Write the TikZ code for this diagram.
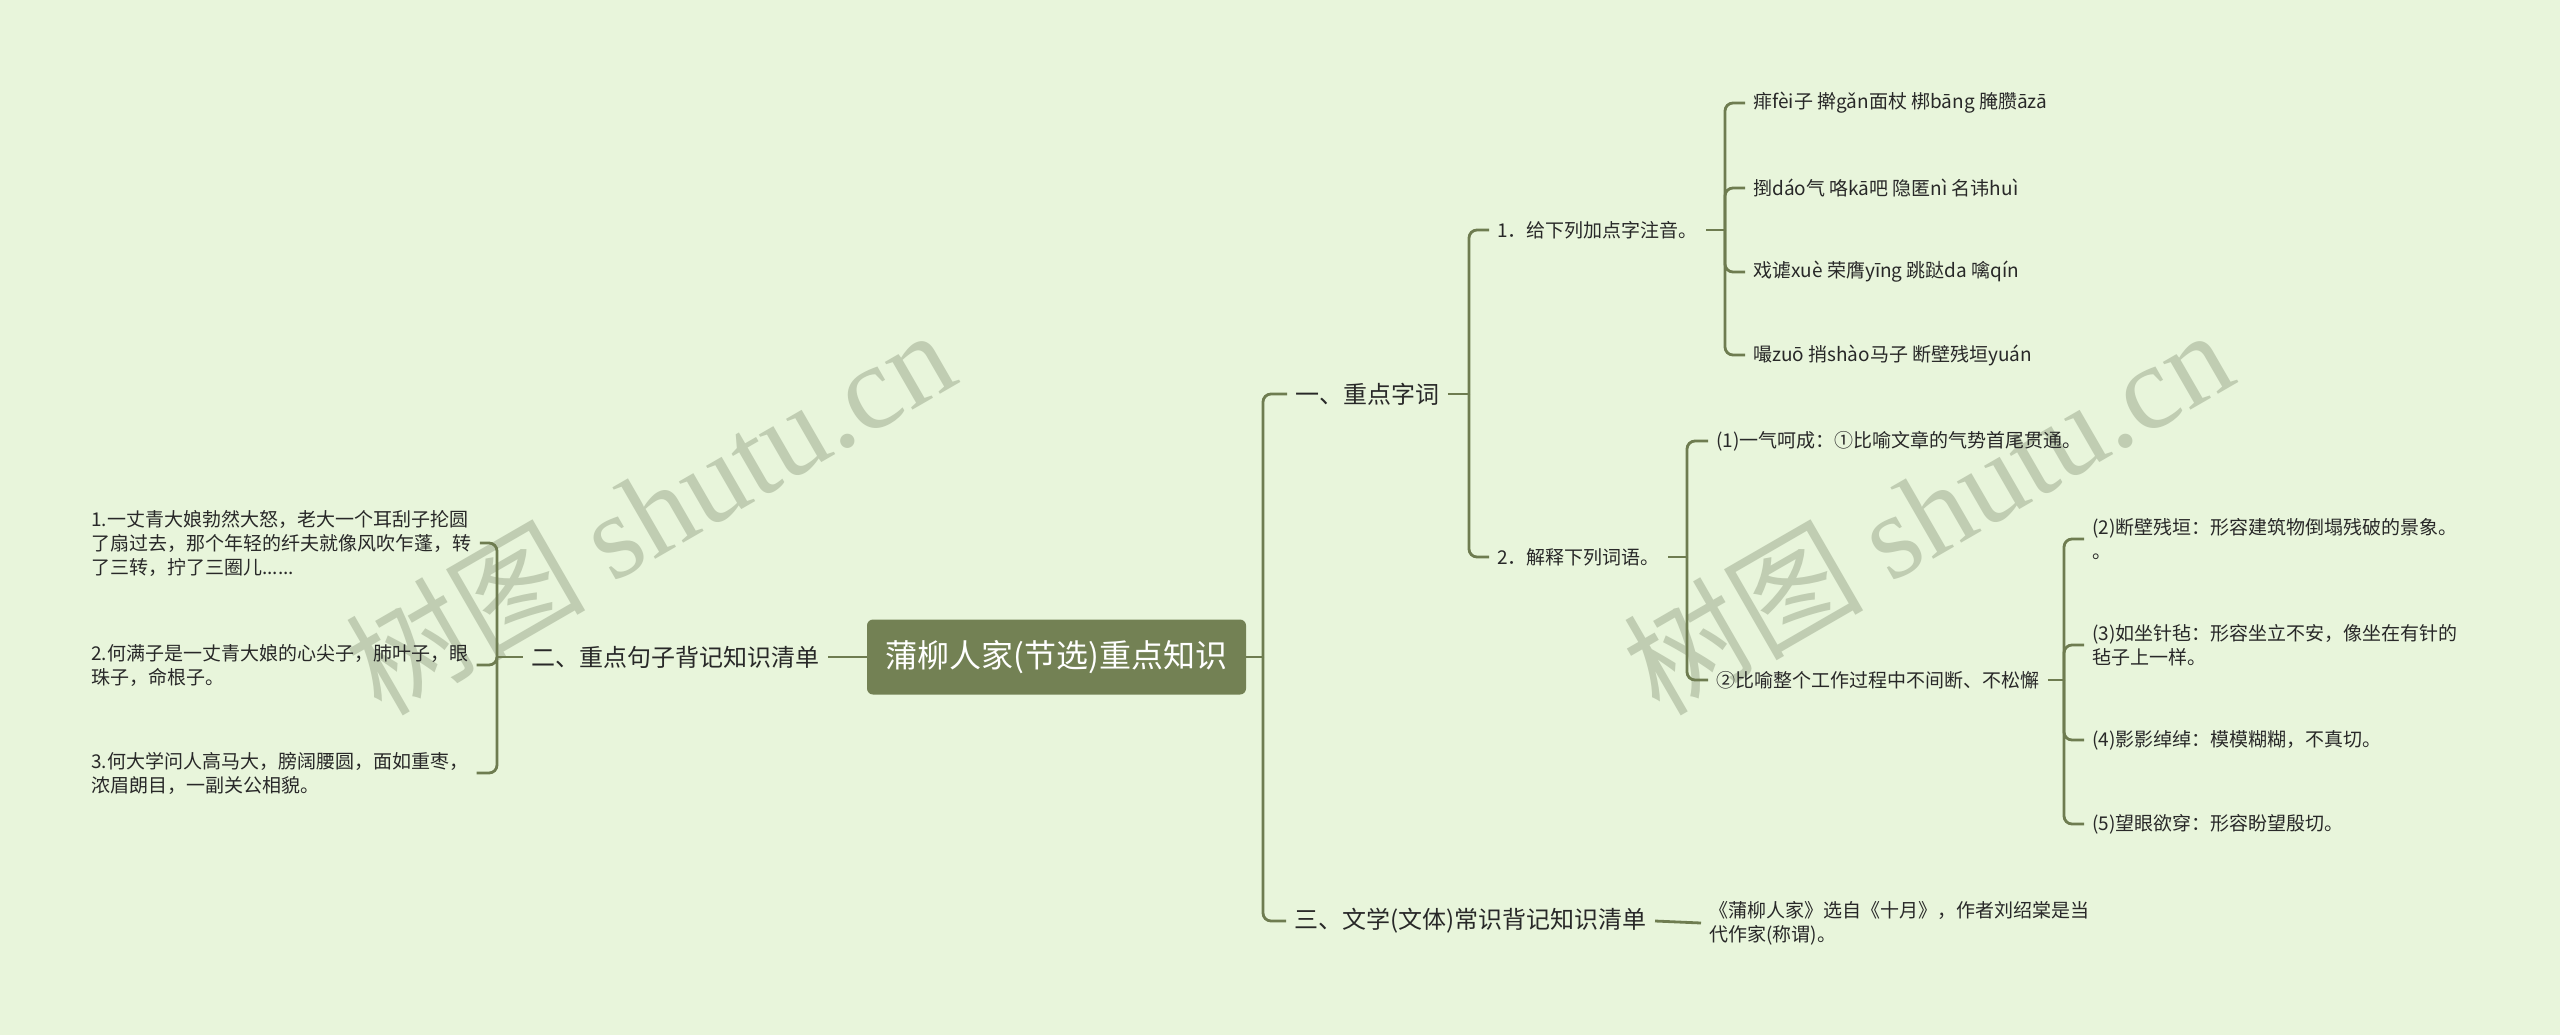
\documentclass[tikz,border=0pt]{standalone}
\usepackage{fontspec}
\setmainfont{Noto Sans CJK SC}
\newfontfamily\wmserif{Liberation Serif}
\usepackage{tikz}
\usetikzlibrary{positioning}
\definecolor{bgcol}{RGB}{232,245,219}
\definecolor{linecol}{RGB}{110,124,80}
\definecolor{rootcol}{RGB}{115,129,84}
\definecolor{txtcol}{RGB}{40,40,40}
\definecolor{wmcol}{RGB}{192,205,178}

\begin{document}
\begin{tikzpicture}[
    x=0.5pt, y=-0.5pt,
    rootbox/.style={fill=rootcol, rounded corners=3pt, text=white, font=\fontsize{16}{19}\selectfont, minimum width=189.5pt, minimum height=37.5pt},
    lvone/.style={text=txtcol, font=\fontsize{12}{14}\selectfont, inner xsep=4pt, inner ysep=2pt},
    leafnode/.style={text=txtcol, font=\fontsize{9.5}{12}\selectfont, align=left, inner xsep=4pt, inner ysep=2pt, anchor=west},
    link/.style={draw=linecol, line width=1.4pt, rounded corners=4pt},
    wmark/.style={text=wmcol, rotate=30, font=\fontsize{60}{60}\selectfont}
]
% Background
\fill[bgcol] (0,0) rectangle (2560,1035);
\useasboundingbox (0,0) rectangle (2560,1035);

% Watermarks
\node[wmark] (wmleft) at (649,510) {树图 {\wmserif shutu.cn}};
\node[wmark] (wmright) at (1927,510) {树图 {\wmserif shutu.cn}};

% Center
\node[rootbox] (rootn) at (1056.5,657) {蒲柳人家(节选)重点知识};

% Level one
\node[lvone, anchor=west] (one) at (1287,394) {一、重点字词};
\node[lvone, left=19.5pt of rootn] (two) {二、重点句子背记知识清单};
\node[lvone, anchor=west] (three) at (1286,921) {三、文学(文体)常识背记知识清单};

% Branch one
\node[leafnode] (zhuyin) at (1489,230) {1．给下列加点字注音。};
\node[leafnode] (jieshi) at (1489,557) {2．解释下列词语。};
\node[leafnode] (py1) at (1745,103) {痱fèi子 擀gǎn面杖 梆bāng 腌臜āzā};
\node[leafnode] (py2) at (1745,188) {捯dáo气 咯kā吧 隐匿nì 名讳huì};
\node[leafnode] (py3) at (1745,272) {戏谑xuè 荣膺yīng 跳跶da 噙qín};
\node[leafnode] (py4) at (1745,355) {嘬zuō 捎shào马子 断壁残垣yuán};
\node[leafnode] (yiqi) at (1708,441) {(1)一气呵成：①比喻文章的气势首尾贯通。};
\node[leafnode] (biyu) at (1708,680) {②比喻整个工作过程中不间断、不松懈};
\node[leafnode] (duanbi) at (2084,539) {(2)断壁残垣：形容建筑物倒塌残破的景象。\\。};
\node[leafnode] (ruzuo) at (2084,645) {(3)如坐针毡：形容坐立不安，像坐在有针的\\毡子上一样。};
\node[leafnode] (yingying) at (2084,740) {(4)影影绰绰：模模糊糊，不真切。};
\node[leafnode] (wangyan) at (2084,824) {(5)望眼欲穿：形容盼望殷切。};

% Branch two
\node[leafnode] (juzi1) at (83,543) {1.一丈青大娘勃然大怒，老大一个耳刮子抡圆\\了扇过去，那个年轻的纤夫就像风吹乍蓬，转\\了三转，拧了三圈儿......};
\node[leafnode] (juzi2) at (83,665) {2.何满子是一丈青大娘的心尖子，肺叶子，眼\\珠子，命根子。};
\node[leafnode] (juzi3) at (83,773) {3.何大学问人高马大，膀阔腰圆，面如重枣，\\浓眉朗目，一副关公相貌。};

% Branch three
\node[leafnode] (chuchu) at (1701,923) {《蒲柳人家》选自《十月》，作者刘绍棠是当\\代作家(称谓)。};

% Junctions
\coordinate (jroot) at (1263,657);
\coordinate (jone) at (1469,394);
\coordinate (jzhuyin) at (1725,230);
\coordinate (jjieshi) at (1687,557);
\coordinate (jbiyu) at (2064,680);
\coordinate (jtwo) at (497,657);

% Links
\draw[link] (rootn.east) -- (jroot);
\foreach \n in {one,three} \draw[link] (jroot) |- (\n.west);
\draw[link] (one.east) -- (jone);
\foreach \n in {zhuyin,jieshi} \draw[link] (jone) |- (\n.west);
\draw[link] (zhuyin.east) -- (jzhuyin);
\foreach \n in {py1,py2,py3,py4} \draw[link] (jzhuyin) |- (\n.west);
\draw[link] (jieshi.east) -- (jjieshi);
\foreach \n in {yiqi,biyu} \draw[link] (jjieshi) |- (\n.west);
\draw[link] (biyu.east) -- (jbiyu);
\foreach \n in {duanbi,ruzuo,yingying,wangyan} \draw[link] (jbiyu) |- (\n.west);
\draw[link] (rootn.west) -- (two.east);
\draw[link] (two.west) -- (jtwo);
\foreach \n in {juzi1,juzi2,juzi3} \draw[link] (jtwo) |- (\n.east);
\draw[link] (three.east) -- (chuchu.west);
\end{tikzpicture}
\end{document}
